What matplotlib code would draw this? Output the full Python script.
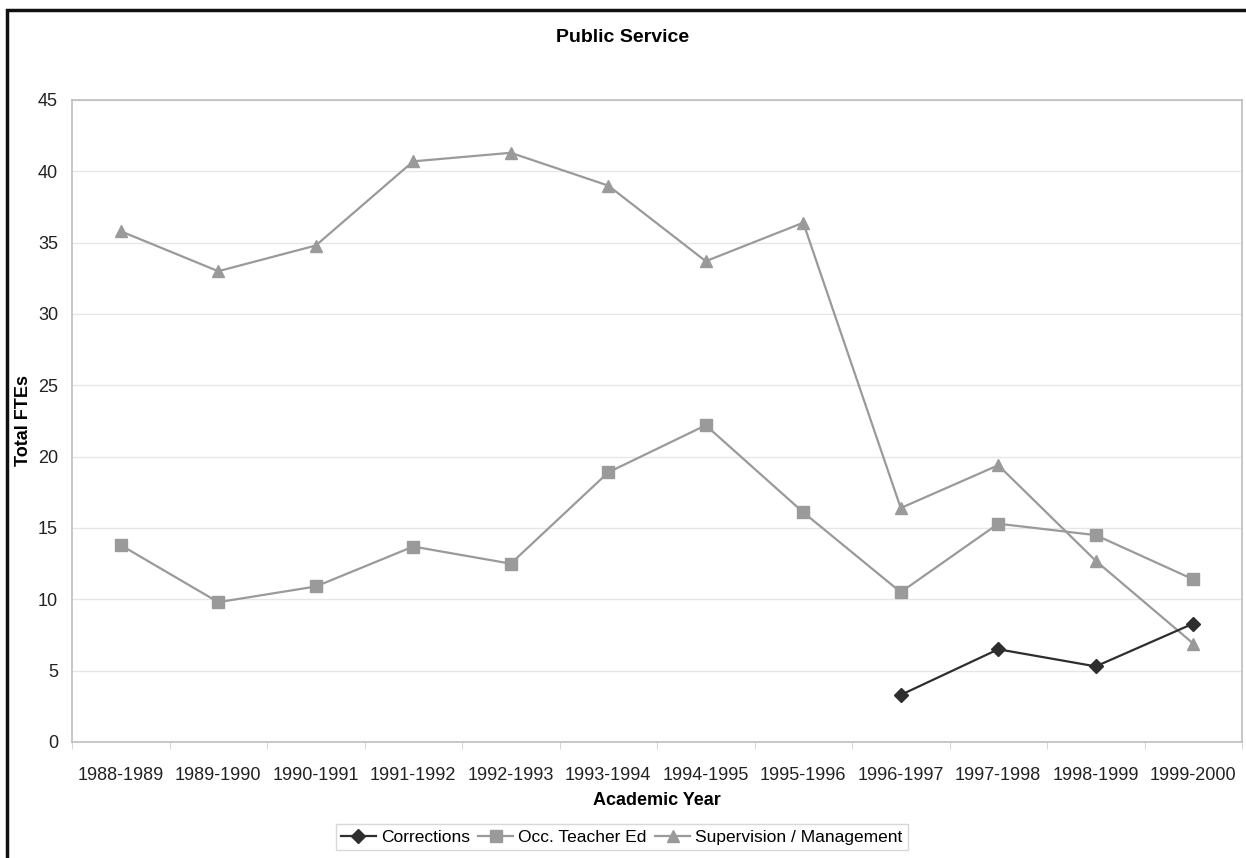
"""
public_service.py

Total FTEs by academic year for the public service programmes.
"""

import numpy as np
import matplotlib.pyplot as plt
from matplotlib.patches import Rectangle

YEARS = [
    "1988-1989", "1989-1990", "1990-1991", "1991-1992", "1992-1993", "1993-1994",
    "1994-1995", "1995-1996", "1996-1997", "1997-1998", "1998-1999", "1999-2000",
]
CORRECTIONS = [np.nan] * 8 + [3.3, 6.5, 5.3, 8.3]
OCC_TEACHER_ED = [13.8, 9.8, 10.9, 13.7, 12.5, 18.9, 22.2, 16.1, 10.5, 15.3, 14.5, 11.4]
SUPERVISION = [35.8, 33.0, 34.8, 40.7, 41.3, 39.0, 33.7, 36.4, 16.4, 19.4, 12.7, 6.9]
Y_TICKS = [0, 5, 10, 15, 20, 25, 30, 35, 40, 45]

plt.rcParams["font.family"] = ["Liberation Sans", "DejaVu Sans"]

fig = plt.figure(figsize=(12.46, 8.58), dpi=100)
ax = fig.add_axes([72 / 1246, 1 - 742 / 858, 1170 / 1246, 642 / 858])

x = np.arange(len(YEARS))
ax.plot(x, CORRECTIONS, color="#2e2e2e", marker="D", markersize=7, lw=1.6,
        label="Corrections", zorder=4)
ax.plot(x, OCC_TEACHER_ED, color="#9a9a9a", marker="s", markersize=8, lw=1.6,
        label="Occ. Teacher Ed", zorder=3)
ax.plot(x, SUPERVISION, color="#9a9a9a", marker="^", markersize=8, lw=1.6,
        label="Supervision / Management", zorder=3)

ax.set_xlim(-0.5, len(YEARS) - 0.5)
ax.set_ylim(0, 45)
ax.set_yticks(Y_TICKS)
ax.set_xticks(x)
ax.set_xticklabels(YEARS)
ax.set_xticks(np.arange(len(YEARS) + 1) - 0.5, minor=True)
ax.tick_params(axis="x", which="major", length=0, labelsize=13, colors="#222222", pad=18)
ax.tick_params(axis="x", which="minor", length=5, color="#cfcfcf", direction="out")
ax.tick_params(axis="y", length=0, labelsize=13, colors="#222222", pad=10)
ax.grid(axis="y", color="#e6e6e6", lw=1.0)
ax.set_axisbelow(True)
for sp in ax.spines.values():
    sp.set_color("#bdbdbd")
    sp.set_linewidth(1.2)

ax.set_xlabel("Academic Year", fontsize=13, fontweight="bold", labelpad=6)
fig.text(23 / 1246, 1 - 421 / 858, "Total FTEs", rotation=90, ha="center",
         va="center", fontsize=13, fontweight="bold")
fig.text(0.5, 1 - 38 / 858, "Public Service", ha="center", va="center",
         fontsize=14, fontweight="bold")

leg = fig.legend(loc="center", bbox_to_anchor=(0.499, 1 - 837 / 858), ncol=3,
                 fontsize=12.5, frameon=True, fancybox=False, handlelength=2.0,
                 handletextpad=0.3, columnspacing=0.5, borderpad=0.3)
leg.get_frame().set_edgecolor("#cfcfcf")
leg.get_frame().set_linewidth(1.0)

# black frame cut at the right and bottom edges, as in the scan
fig.patches.append(Rectangle((7 / 1246, -0.1), 1.2, 1 - 10 / 858 + 0.1,
                             transform=fig.transFigure, fill=False,
                             edgecolor="#111111", lw=2.5))

fig.savefig("out.png", dpi=100, facecolor="white")
